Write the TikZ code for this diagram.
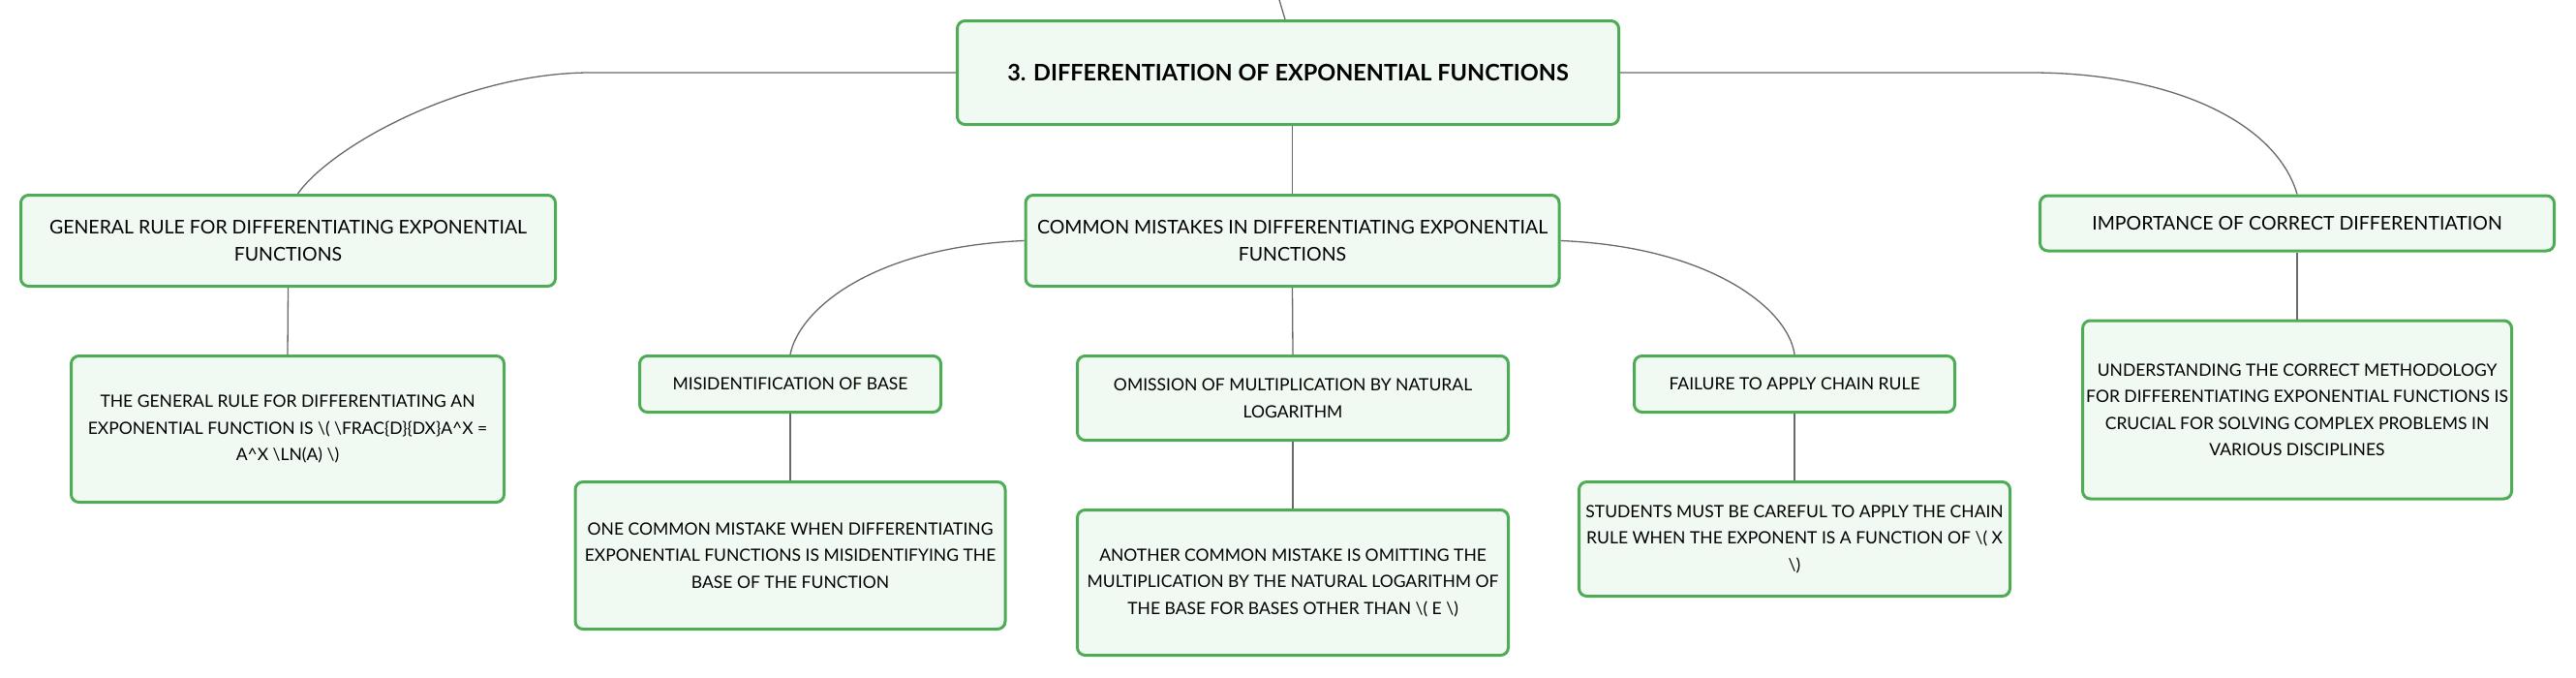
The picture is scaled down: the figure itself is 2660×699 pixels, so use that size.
\documentclass[tikz,border=0pt]{standalone}
\usepackage{fontspec}
\setmainfont{Lato}
\usepackage{tikz}
\usetikzlibrary{positioning, calc}

\definecolor{boxgreen}{RGB}{78,172,86}
\definecolor{boxfill}{RGB}{241,249,243}
\definecolor{linkgray}{RGB}{105,105,105}

\tikzset{
    box/.style={draw=boxgreen, fill=boxfill, line width=3pt, rounded corners=8pt,
        align=center, inner sep=0pt},
    topic/.style={box, font=\fontsize{19.5}{28}\selectfont},
    subtopic/.style={box, font=\fontsize{17.5}{27.5}\selectfont},
    roottopic/.style={box, font=\fontsize{23.5}{26}\selectfont\bfseries},
    link/.style={draw=linkgray, line width=1.3pt}
}

\begin{document}
\begin{tikzpicture}[x=1pt, y=-1pt]
    \useasboundingbox (0,0) rectangle (2660,699);

    % box centres
    \coordinate (p-root) at (1330,75);
    \coordinate (up) at (1321,0);
    \coordinate (bendL) at (610,75);
    \coordinate (bendR) at (2097,75);

    \node[roottopic, minimum width=683pt, minimum height=107pt] (root) at (p-root)
        {3. DIFFERENTIATION OF EXPONENTIAL FUNCTIONS};

    % all other topics
    \foreach \name/\sty/\cx/\cy/\w/\h/\txt in {
        gen/topic/297.5/248.5/552/94/{GENERAL RULE FOR DIFFERENTIATING EXPONENTIAL\\FUNCTIONS},
        cm/topic/1334.5/248.5/551/94/{COMMON MISTAKES IN DIFFERENTIATING EXPONENTIAL\\FUNCTIONS},
        imp/topic/2372/230.5/531/57/{IMPORTANCE OF CORRECT DIFFERENTIATION},
        gend/subtopic/297/443/447/151/{THE GENERAL RULE FOR DIFFERENTIATING AN\\EXPONENTIAL FUNCTION IS \textbackslash( \textbackslash FRAC\{D\}\{DX\}A\textasciicircum X =\\A\textasciicircum X \textbackslash LN(A) \textbackslash)},
        mis/subtopic/816/396.5/311/58/{MISIDENTIFICATION OF BASE},
        misd/subtopic/816/573.5/444/152/{ONE COMMON MISTAKE WHEN DIFFERENTIATING\\EXPONENTIAL FUNCTIONS IS MISIDENTIFYING THE\\BASE OF THE FUNCTION},
        om/subtopic/1335/411/445/87/{OMISSION OF MULTIPLICATION BY NATURAL\\LOGARITHM},
        omd/subtopic/1335/601.5/445/150/{ANOTHER COMMON MISTAKE IS OMITTING THE\\MULTIPLICATION BY THE NATURAL LOGARITHM OF\\THE BASE FOR BASES OTHER THAN \textbackslash( E \textbackslash)},
        fail/subtopic/1853/396.5/331/58/{FAILURE TO APPLY CHAIN RULE},
        faild/subtopic/1853/556.5/445/118/{STUDENTS MUST BE CAREFUL TO APPLY THE CHAIN\\RULE WHEN THE EXPONENT IS A FUNCTION OF \textbackslash( X\\\textbackslash)},
        impd/subtopic/2372/423/443/184/{UNDERSTANDING THE CORRECT METHODOLOGY\\FOR DIFFERENTIATING EXPONENTIAL FUNCTIONS IS\\CRUCIAL FOR SOLVING COMPLEX PROBLEMS IN\\VARIOUS DISCIPLINES}}{

        \node[\sty, minimum width=\w pt, minimum height=\h pt] (\name) at (\cx,\cy) {\txt};
    }

    % straight links
    \draw[link] (up) -- ([xshift=-3pt]root.north);
    \draw[link] (root.south -| cm.north) -- (cm.north);
    \foreach \a/\b in {gen/gend, cm/om, mis/misd, om/omd, fail/faild, imp/impd}{
        \draw[link] (\a.south) -- (\b.north);
    }

    % curved links
    \draw[link] (root.west) -- (bendL) .. controls (480,75) and (343,150) .. ([xshift=10pt]gen.north);
    \draw[link] (root.east) -- (bendR) .. controls (2240,75) and (2350,125) .. (imp.north);
    \draw[link] (cm.west) .. controls (900,255) and (825,320) .. (mis.north);
    \draw[link] (cm.east) .. controls (1768,255) and (1847,320) .. (fail.north);
\end{tikzpicture}
\end{document}
